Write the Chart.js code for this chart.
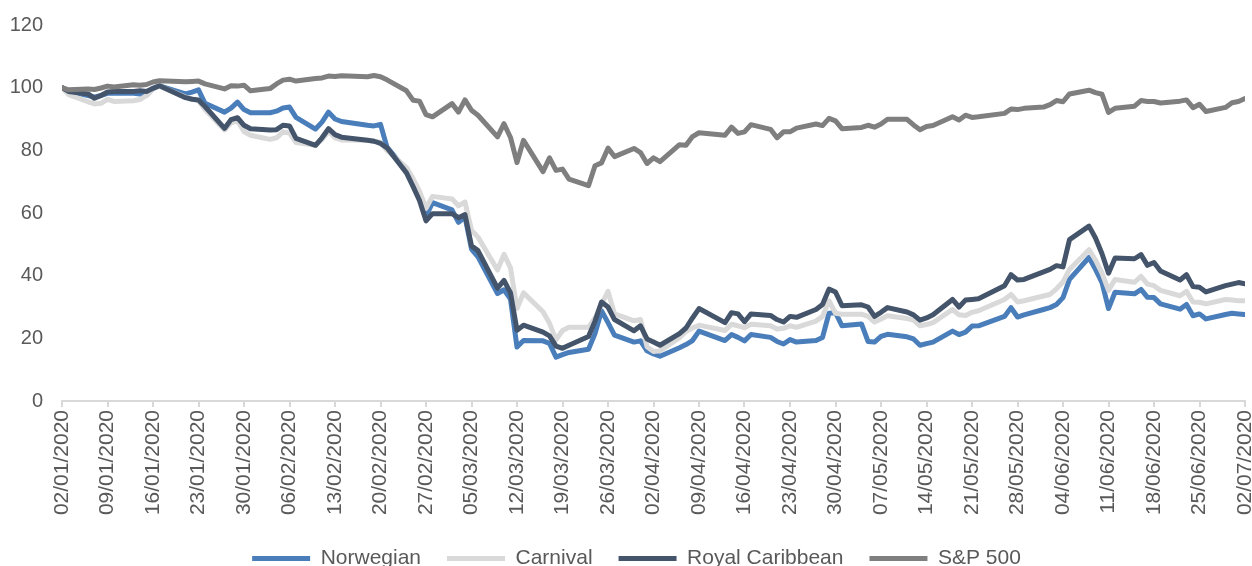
<!DOCTYPE html>
<html>
<head>
<meta charset="utf-8">
<script src="https://cdn.jsdelivr.net/npm/chart.js@4.4.1/dist/chart.umd.min.js"></script>
<style>
html, body { margin: 0; padding: 0; background: #ffffff; overflow: hidden; }
#wrap { width: 1252px; height: 566px; overflow: hidden; }
</style>
</head>
<body>
<div id="wrap"><canvas id="chart"></canvas></div>
<script>
// ---------------------------- trading days (US market, 2020)
var tradingDays = [
    "02/01/2020","03/01/2020","06/01/2020","07/01/2020","08/01/2020","09/01/2020","10/01/2020",
    "13/01/2020","14/01/2020","15/01/2020","16/01/2020","17/01/2020","21/01/2020","22/01/2020",
    "23/01/2020","24/01/2020","27/01/2020","28/01/2020","29/01/2020","30/01/2020","31/01/2020",
    "03/02/2020","04/02/2020","05/02/2020","06/02/2020","07/02/2020","10/02/2020","11/02/2020",
    "12/02/2020","13/02/2020","14/02/2020","18/02/2020","19/02/2020","20/02/2020","21/02/2020",
    "24/02/2020","25/02/2020","26/02/2020","27/02/2020","28/02/2020",
    "02/03/2020","03/03/2020","04/03/2020","05/03/2020","06/03/2020","09/03/2020","10/03/2020",
    "11/03/2020","12/03/2020","13/03/2020","16/03/2020","17/03/2020","18/03/2020","19/03/2020",
    "20/03/2020","23/03/2020","24/03/2020","25/03/2020","26/03/2020","27/03/2020","30/03/2020",
    "31/03/2020",
    "01/04/2020","02/04/2020","03/04/2020","06/04/2020","07/04/2020","08/04/2020","09/04/2020",
    "13/04/2020","14/04/2020","15/04/2020","16/04/2020","17/04/2020","20/04/2020","21/04/2020",
    "22/04/2020","23/04/2020","24/04/2020","27/04/2020","28/04/2020","29/04/2020","30/04/2020",
    "01/05/2020","04/05/2020","05/05/2020","06/05/2020","07/05/2020","08/05/2020","11/05/2020",
    "12/05/2020","13/05/2020","14/05/2020","15/05/2020","18/05/2020","19/05/2020","20/05/2020",
    "21/05/2020","22/05/2020","26/05/2020","27/05/2020","28/05/2020","29/05/2020",
    "01/06/2020","02/06/2020","03/06/2020","04/06/2020","05/06/2020","08/06/2020","09/06/2020",
    "10/06/2020","11/06/2020","12/06/2020","15/06/2020","16/06/2020","17/06/2020","18/06/2020",
    "19/06/2020","22/06/2020","23/06/2020","24/06/2020","25/06/2020","26/06/2020","29/06/2020",
    "30/06/2020","01/07/2020","02/07/2020"
];

// ---------------------------- rebased prices (02/01/2020 = 100)
var norwegian = [
    100, 98.8, 97.5, 97.0, 97.5, 98.2, 98.3, 98.2, 98.0, 97.6, 99.8, 100.6, 98.0, 98.6, 99.3, 95.0, 92.2, 93.5, 95.4, 93.0, 92.0,
    92.0, 92.5, 93.5, 93.8, 90.5, 86.8, 89.0, 92.2, 90.0, 89.2, 88.0, 87.8, 88.3, 81.0, 73.5, 69.5, 65.0, 59.0, 63.3,
    61.0, 57.0, 58.8, 48.5, 46.0, 34.3, 35.5, 32.5, 17.2, 19.3, 19.2, 18.4, 14.0, 14.8, 15.5, 16.5, 21.5, 28.8, 25.0, 21.0, 18.8, 19.2,
    16.0, 15.0, 14.3, 17.0, 18.0, 19.3, 22.3, 19.3, 21.2, 20.3, 19.2, 21.2, 20.3, 19.0, 18.2, 19.6, 18.8, 19.3, 20.3, 28.0, 28.2,
    24.0, 24.6, 19.0, 18.8, 20.6, 21.3, 20.5, 19.8, 17.8, 18.3, 18.8, 22.3, 21.2, 22.0, 23.9, 24.0, 27.0, 29.8, 26.8, 27.5,
    29.2, 29.8, 30.8, 33.0, 38.8, 45.8, 42.0, 37.8, 29.5, 34.7, 34.2, 35.6, 33.1, 33.0, 31.0, 29.3, 30.8, 27.2, 27.8, 26.2, 27.6, 28.0,
    27.8, 27.6
];
var carnival = [
    100, 97.8, 95.5, 94.8, 95.0, 96.3, 95.6, 95.8, 96.2, 97.5, 99.8, 100.5, 97.0, 96.5, 95.8, 93.0, 86.5, 88.8, 89.4, 86.0, 84.8,
    83.5, 84.0, 85.9, 85.5, 82.5, 81.6, 83.5, 86.0, 84.0, 83.3, 83.2, 83.0, 82.5, 80.0, 74.5, 71.0, 67.0, 61.5, 65.3,
    64.5, 62.3, 63.5, 54.5, 52.3, 41.8, 46.8, 42.5, 29.5, 34.5, 28.5, 24.8, 19.5, 22.5, 23.5, 23.5, 26.5, 30.8, 35.0, 27.8, 25.6, 26.0,
    17.3, 15.8, 16.0, 20.2, 22.2, 23.3, 24.2, 22.5, 24.5, 24.0, 23.4, 24.5, 24.0, 23.0, 23.2, 24.0, 23.5, 25.5, 27.0, 32.0, 28.0,
    27.7, 27.7, 27.0, 25.2, 26.2, 27.2, 26.3, 25.8, 24.0, 24.4, 25.0, 29.2, 27.5, 27.3, 28.3, 28.8, 32.4, 34.0, 31.6, 32.0,
    33.5, 34.0, 35.8, 38.0, 42.0, 48.3, 45.0, 40.8, 35.3, 38.8, 37.9, 39.8, 37.3, 36.8, 35.3, 33.6, 35.0, 31.6, 31.5, 31.0, 32.4, 32.2,
    32.0, 32.0
];
var royalCaribbean = [
    100, 98.8, 98.0, 96.6, 97.5, 98.6, 98.8, 98.8, 99.0, 98.8, 99.8, 100.6, 96.8, 96.3, 96.1, 94.0, 87.0, 89.8, 90.4, 88.0, 86.9,
    86.5, 86.6, 88.0, 87.8, 83.8, 81.6, 84.0, 86.9, 85.0, 84.2, 83.2, 82.9, 82.2, 80.8, 72.8, 68.5, 64.0, 57.5, 59.8,
    59.8, 58.5, 59.5, 49.5, 48.0, 36.0, 38.5, 34.5, 22.6, 24.2, 22.0, 20.8, 17.5, 16.8, 17.8, 20.6, 25.5, 31.6, 30.0, 26.0, 22.4, 24.0,
    19.8, 18.8, 17.8, 21.5, 23.3, 26.5, 29.5, 25.0, 28.2, 27.8, 25.3, 27.8, 27.3, 26.0, 25.2, 27.0, 26.7, 29.2, 30.8, 35.7, 34.8,
    30.4, 30.7, 30.0, 27.0, 28.3, 29.8, 28.4, 27.5, 25.8, 26.5, 27.5, 32.4, 30.0, 32.2, 32.4, 32.6, 36.8, 40.3, 38.6, 38.8,
    41.2, 42.0, 43.2, 42.8, 51.5, 55.8, 52.0, 47.0, 40.8, 45.6, 45.4, 46.7, 43.3, 44.2, 41.5, 38.6, 40.3, 36.5, 36.3, 34.8, 36.8, 37.3,
    37.8, 37.4
];
var sp500 = [
    100, 99.3, 99.6, 99.4, 99.9, 100.5, 100.2, 100.9, 100.8, 101.0, 101.8, 102.2, 101.9, 102.0, 102.1, 101.2, 99.6, 100.6, 100.5, 100.8, 99.0,
    99.7, 101.2, 102.4, 102.7, 102.1, 102.9, 103.1, 103.7, 103.6, 103.8, 103.5, 103.9, 103.5, 102.5, 99.0, 96.0, 95.7, 91.4, 90.7,
    94.9, 92.2, 96.1, 92.8, 91.2, 84.3, 88.5, 84.1, 76.1, 83.2, 73.2, 77.6, 73.6, 74.0, 70.8, 68.7, 75.1, 76.0, 80.7, 78.0, 80.6, 79.3,
    75.8, 77.6, 76.4, 81.8, 81.6, 84.4, 85.6, 84.8, 87.4, 85.4, 85.9, 88.2, 86.7, 84.0, 85.9, 85.9, 87.1, 88.4, 87.9, 90.2, 89.4,
    86.9, 87.3, 88.0, 87.4, 88.4, 89.9, 89.9, 88.1, 86.6, 87.6, 87.9, 90.7, 89.7, 91.2, 90.5, 90.7, 91.8, 93.2, 93.0, 93.4,
    93.8, 94.6, 95.9, 95.5, 98.0, 99.2, 98.4, 97.9, 92.1, 93.4, 94.1, 95.9, 95.6, 95.6, 95.1, 95.7, 96.1, 93.6, 94.7, 92.4, 93.7, 95.2,
    95.6, 96.5
];

// ---------------------------- weekly tick labels on the date axis
var tickDates = [
    "02/01/2020","09/01/2020","16/01/2020","23/01/2020","30/01/2020","06/02/2020","13/02/2020",
    "20/02/2020","27/02/2020","05/03/2020","12/03/2020","19/03/2020","26/03/2020","02/04/2020",
    "09/04/2020","16/04/2020","23/04/2020","30/04/2020","07/05/2020","14/05/2020","21/05/2020",
    "28/05/2020","04/06/2020","11/06/2020","18/06/2020","25/06/2020","02/07/2020"
];

var seriesNames = ["Norwegian", "Carnival", "Royal Caribbean", "S&P 500"];
var seriesColors = ["#4a7ebb", "#d9d9d9", "#44546a", "#7f7f7f"];

// ---------------------------- helpers
function dayNumber(s){
    var p = s.split("/");
    return Date.UTC(+p[2], +p[1] - 1, +p[0]) / 86400000;
}
var day0 = dayNumber(tradingDays[0]);
function toPoints(values){
    var pts = [];
    for(var i = 0; i < tradingDays.length; i++){
        pts.push({x: dayNumber(tradingDays[i]) - day0, y: values[i]});
    }
    return pts;
}
var lastDay = dayNumber(tickDates[tickDates.length - 1]) - day0;

var allValues = [norwegian, carnival, royalCaribbean, sp500];
var datasets = [];
for(var k = 0; k < allValues.length; k++){
    datasets.push({
        label: seriesNames[k],
        data: toPoints(allValues[k]),
        borderColor: seriesColors[k],
        backgroundColor: seriesColors[k],
        borderWidth: 5,
        pointRadius: 0,
        tension: 0,
        borderJoinStyle: "round",
        borderCapStyle: "round",
        order: allValues.length - k   // later series drawn on top, like Excel
    });
}

var textColor = "#595959";
var fontFamily = "'Liberation Sans', Arial, sans-serif";

// shift legend to where the original sits
var legendShift = {
    id: "legendShift",
    afterLayout: function(chart){
        if(chart.legend){
            chart.legend.left += 14;
            chart.legend.right += 14;
        }
    }
};

var canvas = document.getElementById("chart");
canvas.width = 1252;
canvas.height = 579;
canvas.style.width = "1252px";
canvas.style.height = "579px";

new Chart(canvas, {
    type: "line",
    data: {datasets: datasets},
    plugins: [legendShift],
    options: {
        responsive: false,
        animation: false,
        devicePixelRatio: 1,
        layout: {padding: {top: 25, right: 7, left: 0, bottom: 0}},
        plugins: {
            tooltip: {enabled: false},
            legend: {
                position: "bottom",
                labels: {
                    boxWidth: 58,
                    boxHeight: 5,
                    padding: 26,
                    color: textColor,
                    font: {family: fontFamily, size: 21},
                    sort: function(a, b){ return a.datasetIndex - b.datasetIndex; },
                    generateLabels: function(chart){
                        var items = Chart.defaults.plugins.legend.labels.generateLabels(chart);
                        items.forEach(function(it){
                            it.lineWidth = 0;
                            it.fillStyle = it.strokeStyle;
                        });
                        return items;
                    }
                }
            }
        },
        scales: {
            x: {
                type: "linear",
                min: 0,
                max: lastDay,
                grid: {display: true, drawOnChartArea: false, drawTicks: true, tickLength: 6, color: "#d9d9d9", lineWidth: 2},
                border: {display: true, color: "#d9d9d9", width: 2},
                ticks: {
                    stepSize: 7,
                    maxTicksLimit: 40,
                    autoSkip: false,
                    minRotation: 90,
                    maxRotation: 90,
                    padding: 3,
                    color: textColor,
                    font: {family: fontFamily, size: 21},
                    callback: function(value){
                        var i = Math.round(value / 7);
                        return tickDates[i] || "";
                    }
                },
                afterFit: function(s){
                    s.height = 121;
                    s.paddingLeft = 0;
                    s.paddingRight = 0;
                }
            },
            y: {
                min: 0,
                max: 120,
                grid: {display: false, drawTicks: false, tickLength: 0},
                border: {display: false},
                ticks: {
                    stepSize: 20,
                    padding: 19,
                    color: textColor,
                    font: {family: fontFamily, size: 20}
                },
                afterFit: function(s){
                    s.width = 62;
                    s.paddingTop = 0;
                    s.paddingBottom = 0;
                }
            }
        }
    }
});
</script>
</body>
</html>
